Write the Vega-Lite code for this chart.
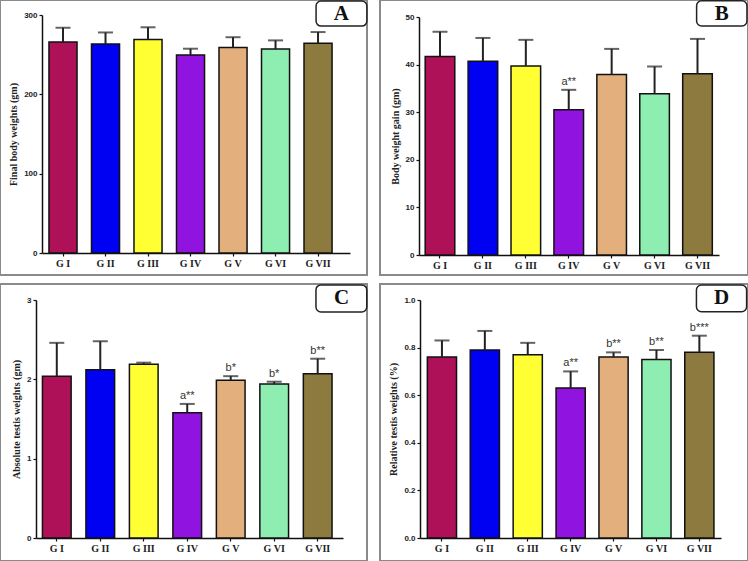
{
  "$schema": "https://vega.github.io/schema/vega-lite/v6.json",
  "autosize": {"type": "pad"},
  "padding": {"left": -1, "top": -1, "right": -1, "bottom": -1},
  "background": "white",
  "columns": 2,
  "spacing": {"row": 9, "column": 13},
  "bounds": "flush",
  "datasets": {
    "final_weight": [
      {"g": "G I", "mean": 266, "upper": 284, "sig": ""},
      {"g": "G II", "mean": 263.5, "upper": 278, "sig": ""},
      {"g": "G III", "mean": 269, "upper": 284.5, "sig": ""},
      {"g": "G IV", "mean": 249.5, "upper": 257.5, "sig": ""},
      {"g": "G V", "mean": 259, "upper": 272, "sig": ""},
      {"g": "G VI", "mean": 257, "upper": 268, "sig": ""},
      {"g": "G VII", "mean": 264.5, "upper": 278.5, "sig": ""}
    ],
    "weight_gain": [
      {"g": "G I", "mean": 41.7, "upper": 46.9, "sig": ""},
      {"g": "G II", "mean": 40.7, "upper": 45.6, "sig": ""},
      {"g": "G III", "mean": 39.7, "upper": 45.2, "sig": ""},
      {"g": "G IV", "mean": 30.5, "upper": 34.7, "sig": "a**"},
      {"g": "G V", "mean": 37.9, "upper": 43.3, "sig": ""},
      {"g": "G VI", "mean": 33.9, "upper": 39.6, "sig": ""},
      {"g": "G VII", "mean": 38.1, "upper": 45.4, "sig": ""}
    ],
    "abs_testis": [
      {"g": "G I", "mean": 2.04, "upper": 2.46, "sig": ""},
      {"g": "G II", "mean": 2.12, "upper": 2.48, "sig": ""},
      {"g": "G III", "mean": 2.19, "upper": 2.21, "sig": ""},
      {"g": "G IV", "mean": 1.58, "upper": 1.69, "sig": "a**"},
      {"g": "G V", "mean": 1.99, "upper": 2.04, "sig": "b*"},
      {"g": "G VI", "mean": 1.94, "upper": 1.97, "sig": "b*"},
      {"g": "G VII", "mean": 2.07, "upper": 2.26, "sig": "b**"}
    ],
    "rel_testis": [
      {"g": "G I", "mean": 0.76, "upper": 0.83, "sig": ""},
      {"g": "G II", "mean": 0.79, "upper": 0.87, "sig": ""},
      {"g": "G III", "mean": 0.77, "upper": 0.82, "sig": ""},
      {"g": "G IV", "mean": 0.63, "upper": 0.70, "sig": "a**"},
      {"g": "G V", "mean": 0.76, "upper": 0.78, "sig": "b**"},
      {"g": "G VI", "mean": 0.75, "upper": 0.79, "sig": "b**"},
      {"g": "G VII", "mean": 0.78, "upper": 0.85, "sig": "b***"}
    ]
  },
  "concat": [
    {
      "width": 367, "height": 275,
      "layer": [
        {
          "data": {"name": "final_weight"},
          "mark": {"type": "bar", "stroke": "#111", "strokeWidth": 1.5},
          "encoding": {
            "x": {"field": "g", "type": "nominal", "sort": null, "title": null,
                  "scale": {"range": [42, 350], "paddingInner": 0.34, "paddingOuter": 0.293, "align": 0.28},
                  "axis": {"offset": -22}},
            "y": {"field": "mean", "type": "quantitative", "title": "Final body weights (gm)",
                  "scale": {"domain": [0, 300], "range": [253, 15], "nice": false},
                  "axis": {"offset": -42, "values": [0, 100, 200, 300], "format": "d"}},
            "color": {"field": "g", "type": "nominal", "legend": null,
                      "scale": {"domain": ["G I", "G II", "G III", "G IV", "G V", "G VI", "G VII"],
                                "range": ["#AE1157", "#0000F2", "#FFFF33", "#9013E0", "#E3B07D", "#8EEDB0", "#8C7A3E"]}}
          }
        },
        {
          "data": {"name": "final_weight"},
          "mark": {"type": "rule", "strokeWidth": 2, "color": "#222"},
          "encoding": {
            "x": {"field": "g", "type": "nominal", "sort": null},
            "y": {"field": "mean", "type": "quantitative"},
            "y2": {"field": "upper"}
          }
        },
        {
          "data": {"name": "final_weight"},
          "mark": {"type": "tick", "thickness": 2, "size": 15, "color": "#222"},
          "encoding": {
            "x": {"field": "g", "type": "nominal", "sort": null},
            "y": {"field": "upper", "type": "quantitative"}
          }
        },
        {
          "data": {"values": [{"panel": "A"}]},
          "mark": {"type": "rect", "fill": "white", "stroke": "#222", "strokeWidth": 1.5, "cornerRadius": 5},
          "encoding": {
            "x": {"datum": "G VII", "bandPosition": 0.43},
            "x2": {"datum": "G VII", "bandPosition": 2.24},
            "y": {"datum": 317.6},
            "y2": {"datum": 286}
          }
        },
        {
          "data": {"values": [{"panel": "A"}]},
          "mark": {"type": "text", "font": "Liberation Serif", "fontWeight": "bold", "fontSize": 21, "baseline": "middle", "align": "center", "color": "#111"},
          "encoding": {
            "x": {"datum": "G VII", "bandPosition": 1.33},
            "y": {"datum": 301.5},
            "text": {"field": "panel"}
          }
        }
      ]
    },
    {
      "width": 368, "height": 275,
      "layer": [
        {
          "data": {"name": "weight_gain"},
          "mark": {"type": "bar", "stroke": "#111", "strokeWidth": 1.5},
          "encoding": {
            "x": {"field": "g", "type": "nominal", "sort": null, "title": null,
                  "scale": {"range": [39, 339], "paddingInner": 0.31, "paddingOuter": 0.15, "align": 0.48},
                  "axis": {"offset": -20}},
            "y": {"field": "mean", "type": "quantitative", "title": "Body weight gain (gm)",
                  "scale": {"domain": [0, 50], "range": [255, 17], "nice": false},
                  "axis": {"offset": -39, "values": [0, 10, 20, 30, 40, 50], "format": "d"}},
            "color": {"field": "g", "type": "nominal", "legend": null,
                      "scale": {"domain": ["G I", "G II", "G III", "G IV", "G V", "G VI", "G VII"],
                                "range": ["#AE1157", "#0000F2", "#FFFF33", "#9013E0", "#E3B07D", "#8EEDB0", "#8C7A3E"]}}
          }
        },
        {
          "data": {"name": "weight_gain"},
          "mark": {"type": "rule", "strokeWidth": 2, "color": "#222"},
          "encoding": {
            "x": {"field": "g", "type": "nominal", "sort": null},
            "y": {"field": "mean", "type": "quantitative"},
            "y2": {"field": "upper"}
          }
        },
        {
          "data": {"name": "weight_gain"},
          "mark": {"type": "tick", "thickness": 2, "size": 15, "color": "#222"},
          "encoding": {
            "x": {"field": "g", "type": "nominal", "sort": null},
            "y": {"field": "upper", "type": "quantitative"}
          }
        },
        {
          "data": {"name": "weight_gain"},
          "mark": {"type": "text", "font": "Liberation Sans", "fontSize": 11, "baseline": "alphabetic", "dy": -5, "color": "#333"},
          "encoding": {
            "x": {"field": "g", "type": "nominal", "sort": null},
            "y": {"field": "upper", "type": "quantitative"},
            "text": {"field": "sig"}
          }
        },
        {
          "data": {"values": [{"panel": "B"}]},
          "mark": {"type": "rect", "fill": "white", "stroke": "#222", "strokeWidth": 1.5, "cornerRadius": 5},
          "encoding": {
            "x": {"datum": "G VII", "bandPosition": 0.47},
            "x2": {"datum": "G VII", "bandPosition": 2.17},
            "y": {"datum": 53.4},
            "y2": {"datum": 48.1}
          }
        },
        {
          "data": {"values": [{"panel": "B"}]},
          "mark": {"type": "text", "font": "Liberation Serif", "fontWeight": "bold", "fontSize": 21, "baseline": "middle", "align": "center", "color": "#111"},
          "encoding": {
            "x": {"datum": "G VII", "bandPosition": 1.32},
            "y": {"datum": 50.7},
            "text": {"field": "panel"}
          }
        }
      ]
    },
    {
      "width": 367, "height": 277,
      "layer": [
        {
          "data": {"name": "abs_testis"},
          "mark": {"type": "bar", "stroke": "#111", "strokeWidth": 1.5},
          "encoding": {
            "x": {"field": "g", "type": "nominal", "sort": null, "title": null,
                  "scale": {"range": [36, 343], "paddingInner": 0.34, "paddingOuter": 0.2, "align": 0.37},
                  "axis": {"offset": -23}},
            "y": {"field": "mean", "type": "quantitative", "title": "Absolute testis weights (gm)",
                  "scale": {"domain": [0, 3], "range": [254, 16], "nice": false},
                  "axis": {"offset": -36, "values": [0, 1, 2, 3], "format": "d"}},
            "color": {"field": "g", "type": "nominal", "legend": null,
                      "scale": {"domain": ["G I", "G II", "G III", "G IV", "G V", "G VI", "G VII"],
                                "range": ["#AE1157", "#0000F2", "#FFFF33", "#9013E0", "#E3B07D", "#8EEDB0", "#8C7A3E"]}}
          }
        },
        {
          "data": {"name": "abs_testis"},
          "mark": {"type": "rule", "strokeWidth": 2, "color": "#222"},
          "encoding": {
            "x": {"field": "g", "type": "nominal", "sort": null},
            "y": {"field": "mean", "type": "quantitative"},
            "y2": {"field": "upper"}
          }
        },
        {
          "data": {"name": "abs_testis"},
          "mark": {"type": "tick", "thickness": 2, "size": 15, "color": "#222"},
          "encoding": {
            "x": {"field": "g", "type": "nominal", "sort": null},
            "y": {"field": "upper", "type": "quantitative"}
          }
        },
        {
          "data": {"name": "abs_testis"},
          "mark": {"type": "text", "font": "Liberation Sans", "fontSize": 11, "baseline": "alphabetic", "dy": -5, "color": "#333"},
          "encoding": {
            "x": {"field": "g", "type": "nominal", "sort": null},
            "y": {"field": "upper", "type": "quantitative"},
            "text": {"field": "sig"}
          }
        },
        {
          "data": {"values": [{"panel": "C"}]},
          "mark": {"type": "rect", "fill": "white", "stroke": "#222", "strokeWidth": 1.5, "cornerRadius": 5},
          "encoding": {
            "x": {"datum": "G VII", "bandPosition": 0.44},
            "x2": {"datum": "G VII", "bandPosition": 2.21},
            "y": {"datum": 3.19},
            "y2": {"datum": 2.85}
          }
        },
        {
          "data": {"values": [{"panel": "C"}]},
          "mark": {"type": "text", "font": "Liberation Serif", "fontWeight": "bold", "fontSize": 21, "baseline": "middle", "align": "center", "color": "#111"},
          "encoding": {
            "x": {"datum": "G VII", "bandPosition": 1.33},
            "y": {"datum": 3.02},
            "text": {"field": "panel"}
          }
        }
      ]
    },
    {
      "width": 368, "height": 277,
      "layer": [
        {
          "data": {"name": "rel_testis"},
          "mark": {"type": "bar", "stroke": "#111", "strokeWidth": 1.5},
          "encoding": {
            "x": {"field": "g", "type": "nominal", "sort": null, "title": null,
                  "scale": {"range": [40, 341], "paddingInner": 0.32, "paddingOuter": 0.168, "align": 0.51},
                  "axis": {"offset": -23}},
            "y": {"field": "mean", "type": "quantitative", "title": "Relative testis weights (%)",
                  "scale": {"domain": [0, 1], "range": [254, 16], "nice": false},
                  "axis": {"offset": -40, "values": [0, 0.2, 0.4, 0.6, 0.8, 1.0], "format": ".1f"}},
            "color": {"field": "g", "type": "nominal", "legend": null,
                      "scale": {"domain": ["G I", "G II", "G III", "G IV", "G V", "G VI", "G VII"],
                                "range": ["#AE1157", "#0000F2", "#FFFF33", "#9013E0", "#E3B07D", "#8EEDB0", "#8C7A3E"]}}
          }
        },
        {
          "data": {"name": "rel_testis"},
          "mark": {"type": "rule", "strokeWidth": 2, "color": "#222"},
          "encoding": {
            "x": {"field": "g", "type": "nominal", "sort": null},
            "y": {"field": "mean", "type": "quantitative"},
            "y2": {"field": "upper"}
          }
        },
        {
          "data": {"name": "rel_testis"},
          "mark": {"type": "tick", "thickness": 2, "size": 15, "color": "#222"},
          "encoding": {
            "x": {"field": "g", "type": "nominal", "sort": null},
            "y": {"field": "upper", "type": "quantitative"}
          }
        },
        {
          "data": {"name": "rel_testis"},
          "mark": {"type": "text", "font": "Liberation Sans", "fontSize": 11, "baseline": "alphabetic", "dy": -5, "color": "#333"},
          "encoding": {
            "x": {"field": "g", "type": "nominal", "sort": null},
            "y": {"field": "upper", "type": "quantitative"},
            "text": {"field": "sig"}
          }
        },
        {
          "data": {"values": [{"panel": "D"}]},
          "mark": {"type": "rect", "fill": "white", "stroke": "#222", "strokeWidth": 1.5, "cornerRadius": 5},
          "encoding": {
            "x": {"datum": "G VII", "bandPosition": 0.40},
            "x2": {"datum": "G VII", "bandPosition": 2.12},
            "y": {"datum": 1.063},
            "y2": {"datum": 0.951}
          }
        },
        {
          "data": {"values": [{"panel": "D"}]},
          "mark": {"type": "text", "font": "Liberation Serif", "fontWeight": "bold", "fontSize": 21, "baseline": "middle", "align": "center", "color": "#111"},
          "encoding": {
            "x": {"datum": "G VII", "bandPosition": 1.26},
            "y": {"datum": 1.007},
            "text": {"field": "panel"}
          }
        }
      ]
    }
  ],
  "config": {
    "view": {"stroke": "#8a8a8a", "strokeWidth": 2},
    "axis": {
      "grid": false,
      "domainColor": "#111",
      "domainWidth": 1.5,
      "tickColor": "#111",
      "tickWidth": 1.2,
      "tickSize": 3,
      "labelColor": "#222",
      "titleColor": "#222",
      "titleFont": "Liberation Serif",
      "titleFontWeight": "bold",
      "titleFontSize": 10
    },
    "axisX": {
      "labelFont": "Liberation Serif",
      "labelFontWeight": "bold",
      "labelFontSize": 10,
      "labelAngle": 0,
      "labelPadding": 2
    },
    "axisY": {
      "labelFont": "Liberation Sans",
      "labelFontWeight": "bold",
      "labelFontSize": 8,
      "labelPadding": 2,
      "titlePadding": 5
    }
  }
}
